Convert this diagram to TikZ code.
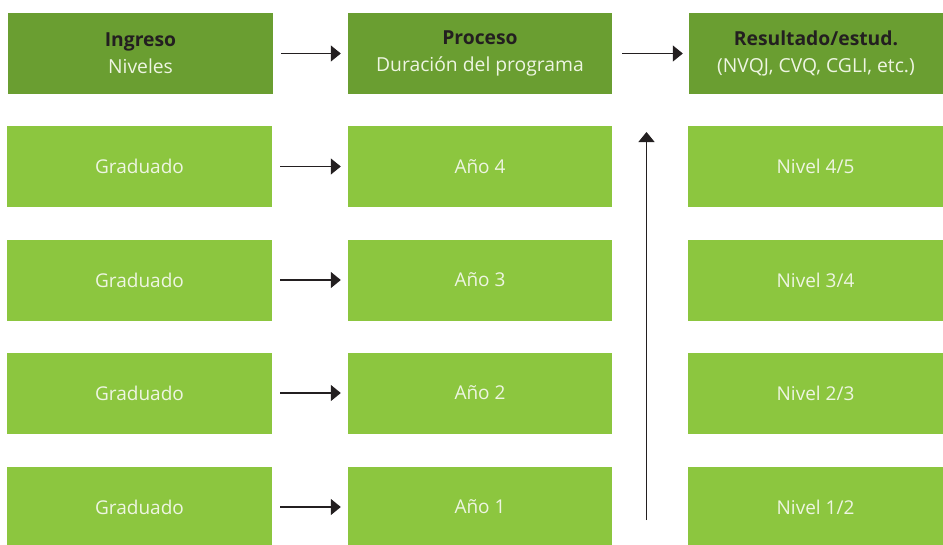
\documentclass[tikz,border=0pt]{standalone}
\usepackage{fontspec}
\setmainfont{Open Sans}
\usetikzlibrary{arrows.meta}
\definecolor{verdeoscuro}{HTML}{6A9E31}
\definecolor{verdeclaro}{HTML}{8CC63F}
\definecolor{textoclaro}{HTML}{EEF5E2}
\definecolor{textoscuro}{HTML}{231F20}
\tikzset{
  caja/.style={fill=verdeclaro,minimum width=265pt,minimum height=81pt,inner sep=0pt,
    text=textoclaro,font=\fontsize{19}{22}\selectfont},
  cajader/.style={caja,minimum width=255pt},
  cabecera/.style={fill=verdeoscuro,align=center,font=\fontsize{19.3}{27}\selectfont},
  flecha/.style={-{Triangle[length=10pt,width=16pt]},line width=1.3pt,draw=textoscuro,
    shorten <=8pt,shorten >=7pt}
}
\begin{document}
\begin{tikzpicture}[x=1pt,y=-1pt]
 \useasboundingbox (0,0) rectangle (943,544);

 \node[caja,cabecera] (ing) at (140.5,53.5)
   {{\color{textoscuro}\bfseries Ingreso}\\Niveles};
 \node[caja,cabecera,minimum width=264pt] (pro) at (480,53.5)
   {{\color{textoscuro}\bfseries Proceso}\\Duración del programa};
 \node[cajader,cabecera,minimum width=254pt] (res) at (816,53.5)
   {{\color{textoscuro}\bfseries Resultado/estud.}\\(NVQJ, CVQ, CGLI, etc.)};

 \node[caja] (gra4) at (139.5,166.5) {Graduado};
 \node[caja] (gra3) at (139.5,280) {Graduado};
 \node[caja] (gra2) at (139.5,393) {Graduado};
 \node[caja] (gra1) at (139.5,507) {Graduado};

 \node[caja,minimum width=264pt] (ano4) at (480,166.5) {Año 4};
 \node[caja,minimum width=264pt] (ano3) at (480,280) {Año 3};
 \node[caja,minimum width=264pt] (ano2) at (480,393) {Año 2};
 \node[caja,minimum width=264pt] (ano1) at (480,507) {Año 1};

 \node[cajader] (niv4) at (815.5,166.5) {Nivel 4/5};
 \node[cajader] (niv3) at (815.5,280) {Nivel 3/4};
 \node[cajader] (niv2) at (815.5,393) {Nivel 2/3};
 \node[cajader] (niv1) at (815.5,507) {Nivel 1/2};

 \draw[flecha] (ing) -- (pro);
 \draw[flecha,shorten <=10pt,shorten >=6pt] (pro) -- (res);
 \draw[flecha] (gra4) -- (ano4);
 \draw[flecha] (gra3) -- (ano3);
 \draw[flecha] (gra2) -- (ano2);
 \draw[flecha] (gra1) -- (ano1);

 \coordinate (base) at (646.5,520);
 \coordinate (cima) at (646.5,132);
 \draw[flecha,shorten <=0pt,shorten >=0pt,line width=1.2pt] (base) -- (cima);
\end{tikzpicture}
\end{document}
